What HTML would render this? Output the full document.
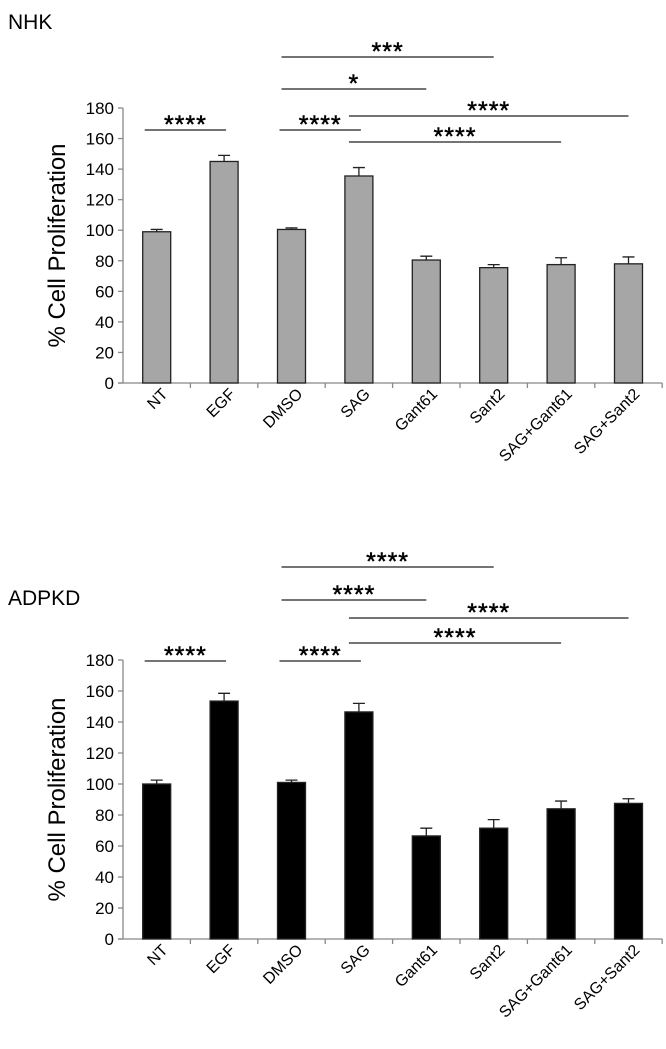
<!DOCTYPE html>
<html><head><meta charset="utf-8"><style>
body{margin:0;background:#fff}
svg text{font-family:"Liberation Sans",Arial,sans-serif;fill:#000}
</style></head><body>
<svg id="chart" width="666" height="1044" viewBox="0 0 666 1044" xmlns="http://www.w3.org/2000/svg">
<text x="8" y="29" font-size="21">NHK</text>
<text x="8" y="605" font-size="21">ADPKD</text>
</svg>
<script>
const categories=["NT","EGF","DMSO","SAG","Gant61","Sant2","SAG+Gant61","SAG+Sant2"];
const nhkValues=[99,145,100.5,135.5,80.5,75.5,77.5,78];
const nhkErrors=[1.5,4,1,5.5,2.5,2,4.5,4.5];
const adpkdValues=[100,153.5,101,146.5,66.5,71.5,84,87.5];
const adpkdErrors=[2.5,5,1.5,5.5,5,5.5,5,3];
const yTicks=[0,20,40,60,80,100,120,140,160,180];
const nhkSig=[[0,1,"****",130],[2,3,"****",130],[2,4,"*",89],[2,5,"***",57],[3,7,"****",116],[3,6,"****",142]];
const adpkdSig=[[0,1,"****",661],[2,3,"****",661],[2,4,"****",600],[2,5,"****",567],[3,7,"****",618],[3,6,"****",643]];
const svg=document.getElementById('chart');
const NS="http://www.w3.org/2000/svg";
function mk(t,a){const e=document.createElementNS(NS,t);for(const k in a)e.setAttribute(k,a[k]);svg.appendChild(e);return e;}
function drawChart(prefix,values,errors,sig,y0,y180,fill){
  const x0=123,step=67.4,bw=28;
  const y=v=>y0-(v/180)*(y0-y180);
  const xc=i=>x0+step*(i+0.5);
  const ax=mk('line',{x1:x0,y1:y180,x2:x0,y2:y0,stroke:'#888','stroke-width':1.3});
  
  
  const xa=mk('line',{x1:x0-5,y1:y0,x2:x0+step*8,y2:y0,stroke:'#888','stroke-width':1.3});
  
  
  yTicks.forEach(t=>{
    mk('line',{x1:x0-5,y1:y(t),x2:x0,y2:y(t),stroke:'#888','stroke-width':1.3});
    const tx=mk('text',{x:x0-9,y:y(t)+6,'font-size':17,'text-anchor':'end'});
    tx.textContent=t;
    
    
  });
  for(let i=1;i<=8;i++)mk('line',{x1:x0+step*i,y1:y0,x2:x0+step*i,y2:y0+5,stroke:'#888','stroke-width':1.3});
  const yt=mk('text',{x:0,y:0,'font-size':24,'text-anchor':'middle',transform:`translate(${x0-58},${(y0+y180)/2}) rotate(-90)`});
  yt.textContent='% Cell Proliferation';
  
  
  categories.forEach((c,i)=>{
    const cx=xc(i);
    const b=mk('rect',{x:cx-bw/2,y:y(values[i]),width:bw,height:y0-y(values[i]),fill:fill,stroke:'#222','stroke-width':1.3});
    
    
    const et=y(values[i]+errors[i]);
    const e=mk('path',{d:`M${cx},${y(values[i])}V${et}M${cx-6},${et}H${cx+6}`,stroke:'#222','stroke-width':1.3,fill:'none'});
    
    
    const l=mk('text',{x:0,y:0,'font-size':16,'text-anchor':'end',transform:`translate(${cx+12},${y0+12}) rotate(-45)`});
    l.textContent=c;
    
    
  });
  sig.forEach(s=>{
    const a=xc(s[0])-(s[0]===s[1]-1?12:10),b2=xc(s[1])+(s[0]===s[1]-1?2:0);
    const ln=mk('line',{x1:a,y1:s[3],x2:b2,y2:s[3],stroke:'#222','stroke-width':1.3});
    
    
    const st=mk('text',{x:(a+b2)/2,y:s[3]+3,'font-size':25,'text-anchor':'middle','letter-spacing':'1','stroke':'#000','stroke-width':'0.5'});
    st.textContent=s[2];
    
    
  });
}
drawChart('nhk',nhkValues,nhkErrors,nhkSig,383,108,'#a6a6a6');
drawChart('adpkd',adpkdValues,adpkdErrors,adpkdSig,939,660,'#000');
</script>
</body></html>
